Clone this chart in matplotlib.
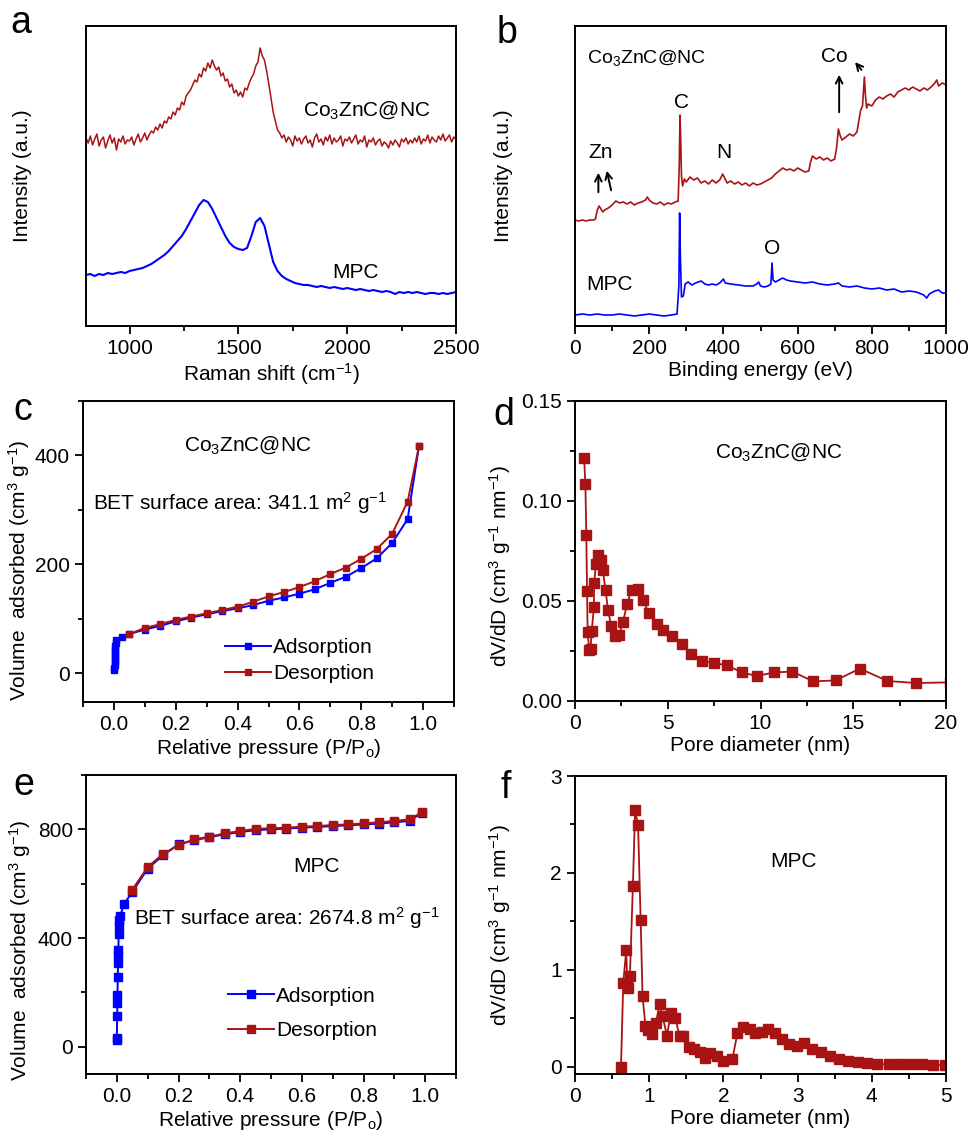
import numpy as np
import matplotlib
matplotlib.use('Agg')
import matplotlib.pyplot as plt
from matplotlib.ticker import MultipleLocator, FormatStrFormatter

plt.rcParams['font.family'] = ['Liberation Sans', 'DejaVu Sans']
plt.rcParams['mathtext.fontset'] = 'custom'
plt.rcParams['mathtext.rm'] = 'Liberation Sans'
plt.rcParams['mathtext.it'] = 'Liberation Sans:italic'
plt.rcParams['mathtext.default'] = 'regular'

RED = '#A81414'
BLUE = '#0000FF'

# (a) Raman spectra
raman_shift = np.arange(800, 2501, 10)
raman_conc = [188, 183, 190, 181, 187, 192, 180, 186, 189, 178, 185, 191, 183, 188, 176, 187, 184, 190, 182, 186, 185,
              189, 181, 187, 192, 184, 188, 193, 186, 191, 195,
              193, 199, 196, 202, 198, 205, 203, 209, 207, 214,
              211, 218, 216, 224, 221, 230, 233, 236, 241, 246,
              244, 252, 249, 258, 255, 263, 258, 266, 260, 256,
              259, 250, 253, 245, 247, 239, 242, 233, 236, 230,
              234, 229, 238, 236, 243, 248, 252, 260, 264, 278,
              270, 266, 255, 242, 228, 214, 205, 196, 193, 188,
              191, 184, 189, 186, 180, 190, 185, 188, 182, 187,
              190, 183, 186, 179, 188, 192, 184, 187, 181, 189,
              185, 191, 182, 188, 184, 186, 190, 180, 187, 185,
              189, 183, 187, 191, 182, 186, 184, 190, 179, 186,
              184, 188, 181, 185, 187, 180, 184, 182, 178, 185,
              181, 186, 183, 179, 187, 184, 188, 182, 186, 183,
              188, 184, 190, 182, 187, 185, 191, 183, 189, 186,
              184, 190, 186, 192, 185, 188, 191, 184, 189, 187]
raman_shift_mpc = np.arange(800, 2501, 20)
raman_mpc = [51, 52, 50, 52, 51, 53, 52, 53, 54, 53,
             55, 56, 57, 58, 60, 62, 65, 68, 71, 75,
             80, 85, 90, 97, 105, 113, 121, 126, 124, 117,
             108, 99, 90, 83, 79, 77, 76, 78, 90, 104,
             108, 100, 82, 64, 55, 50, 47, 45, 43, 42,
             41, 41, 40, 39, 40, 39, 38, 39, 38, 37,
             38, 37, 36, 37, 36, 35, 36, 35, 34, 35,
             34, 32, 34, 33, 34, 33, 34, 33, 32, 33,
             33, 32, 33, 32, 33, 34]

# (b) XPS survey
xps_e_conc = [0, 10, 20, 30, 40, 50, 55, 60, 65, 70, 75, 80, 90, 100, 110, 120, 130, 140, 150, 160, 170, 180,
              190, 195, 200, 210, 220, 230, 240, 250, 260, 270, 278, 281, 283, 285, 287, 290, 295, 300, 310,
              320, 330, 340, 350, 360, 370, 380, 390, 398, 402, 410, 420, 430, 440, 450, 460, 470, 480, 490,
              500, 510, 520, 530, 540, 550, 560, 570, 580, 590, 600, 610, 620, 630, 635, 640, 650, 660, 670,
              680, 690, 700, 705, 710, 715, 720, 730, 740, 750, 760, 765, 770, 775, 780, 783, 786, 790, 800,
              810, 820, 830, 840, 850, 860, 870, 880, 890, 900, 910, 920, 930, 940, 950, 960, 970, 975, 980,
              990, 1000]
xps_i_conc = [106, 105, 106, 105, 106, 106, 107, 116, 120, 117, 114, 116, 118, 121, 125, 123, 124, 122, 124, 121,
              123, 124, 126, 129, 126, 123, 122, 124, 121, 123, 122, 124, 125, 160, 211, 185, 150, 140, 147, 144,
              149, 146, 148, 143, 145, 142, 146, 143, 146, 152, 149, 143, 145, 142, 144, 141, 143, 140, 143, 141,
              142, 144, 146, 148, 152, 155, 158, 156, 157, 155, 158, 156, 154, 155, 164, 170, 167, 169, 166,
              168, 165, 167, 178, 197, 190, 186, 189, 192, 190, 194, 205, 216, 220, 249, 230, 218, 222, 220,
              226, 229, 227, 230, 232, 229, 234, 236, 238, 236, 239, 237, 235, 238, 236, 239, 243, 246, 240,
              243, 241]
xps_e_mpc = [0, 20, 40, 60, 80, 100, 120, 140, 160, 180, 200, 220, 240, 260, 275, 280, 282, 284, 287, 292, 297,
             305, 315, 325, 340, 350, 360, 370, 380, 390, 400, 405, 420, 440, 460, 480, 490, 495, 500, 510,
             520, 528, 531, 534, 540, 550, 560, 570, 580, 600, 620, 640, 660, 680, 700, 710, 720, 740, 760,
             780, 800, 820, 840, 860, 880, 900, 920, 940, 948, 955, 970, 980, 990, 1000]
xps_i_mpc = [11, 12, 11, 12, 11, 11, 12, 11, 10, 11, 12, 11, 10, 11, 12, 40, 113, 70, 29, 30, 42,
             44, 41, 43, 45, 42, 41, 42, 41, 43, 47, 43, 42, 41, 40, 40, 42, 44, 40, 39,
             40, 42, 63, 46, 44, 46, 48, 46, 45, 44, 43, 44, 42, 41, 42, 43, 40, 39, 40,
             38, 37, 38, 36, 37, 34, 35, 34, 31, 28, 32, 35, 36, 33, 33]

# (c) N2 isotherm, Co3ZnC@NC
p_ads_c = [0.001, 0.001, 0.002, 0.002, 0.002, 0.003, 0.003, 0.004, 0.004, 0.005, 0.006, 0.008,
           0.025, 0.05, 0.1, 0.15, 0.2, 0.25, 0.3, 0.35, 0.4, 0.45, 0.5, 0.55, 0.6, 0.65, 0.7,
           0.75, 0.8, 0.85, 0.9, 0.95, 0.987]
v_ads_c = [5, 10, 15, 20, 25, 30, 35, 40, 45, 50, 55, 60,
           66, 72, 80, 87, 95, 102, 108, 114, 119, 125, 133, 139, 146, 154, 166,
           177, 193, 211, 239, 283, 418]
p_des_c = [0.05, 0.1, 0.15, 0.2, 0.25, 0.3, 0.35, 0.4, 0.45, 0.5, 0.55, 0.6, 0.65, 0.7,
           0.75, 0.8, 0.85, 0.9, 0.95, 0.987]
v_des_c = [72, 83, 90, 98, 104, 110, 116, 122, 131, 141, 149, 158, 169, 182,
           194, 210, 228, 256, 315, 418]

# (d) pore size distribution, Co3ZnC@NC
d_pore_c = [0.49, 0.56, 0.61, 0.65, 0.68, 0.77, 0.84, 0.9, 1.02, 1.03, 1.13, 1.26, 1.38, 1.5, 1.65,
            1.78, 1.96, 2.16, 2.37, 2.59, 2.8, 3.05, 3.38, 3.65, 3.99, 4.4, 4.76, 5.25, 5.75, 6.25,
            6.85, 7.51, 8.19, 9.0, 9.79, 10.75, 11.72, 12.85, 14.05, 15.36, 16.84, 18.37, 20.2]
dv_c = [0.1217, 0.1083, 0.0828, 0.055, 0.0345, 0.0253, 0.0262, 0.035, 0.047, 0.059, 0.0687, 0.0728,
        0.0707, 0.0653, 0.0553, 0.0453, 0.0373, 0.0323, 0.0328, 0.0395, 0.0483, 0.0557, 0.0562, 0.0503,
        0.044, 0.0387, 0.0357, 0.0323, 0.0287, 0.0233, 0.0198, 0.019, 0.0178, 0.0143, 0.0125, 0.0143,
        0.0147, 0.0098, 0.0103, 0.0162, 0.01, 0.009, 0.0093]

# (e) N2 isotherm, MPC
p_ads_m = [0.0, 0.0, 0.001, 0.002, 0.002, 0.003, 0.004, 0.004, 0.005, 0.006, 0.007, 0.008, 0.01,
           0.024, 0.05, 0.1, 0.15, 0.2, 0.25, 0.3, 0.35, 0.4, 0.45, 0.5, 0.55, 0.6, 0.65, 0.7,
           0.75, 0.8, 0.85, 0.9, 0.95, 0.99]
v_ads_m = [25, 31, 114, 160, 191, 256, 308, 335, 357, 416, 443, 468, 480,
           526, 570, 655, 705, 745, 760, 771, 782, 790, 797, 800, 803, 806, 809, 812,
           815, 818, 821, 826, 831, 862]
p_des_m = [0.05, 0.1, 0.15, 0.2, 0.25, 0.3, 0.35, 0.4, 0.45, 0.5, 0.55, 0.6, 0.65, 0.7,
           0.75, 0.8, 0.85, 0.9, 0.95, 0.99]
v_des_m = [578, 661, 710, 741, 763, 773, 785, 794, 802, 804, 806, 810, 812, 816,
           818, 822, 826, 831, 837, 864]

# (f) pore size distribution, MPC
d_pore_m = [0.62, 0.65, 0.69, 0.705, 0.72, 0.74, 0.78, 0.81, 0.85, 0.885, 0.91, 0.95, 0.99, 1.04,
            1.09, 1.14, 1.18, 1.24, 1.29, 1.35, 1.41, 1.46, 1.54, 1.61, 1.68, 1.75, 1.82, 1.91,
            2.0, 2.12, 2.19, 2.27, 2.36, 2.43, 2.52, 2.6, 2.69, 2.79, 2.89, 2.99, 3.09, 3.2, 3.32,
            3.44, 3.56, 3.68, 3.81, 3.94, 4.07, 4.23, 4.38, 4.53, 4.68, 4.83, 4.99]
dv_m = [0.0, 0.86, 1.2, 0.86, 0.81, 0.94, 1.86, 2.65, 2.49, 1.51, 0.73, 0.42, 0.38, 0.34,
        0.45, 0.65, 0.52, 0.32, 0.55, 0.5, 0.32, 0.32, 0.2, 0.18, 0.155, 0.086, 0.14, 0.11,
        0.062, 0.076, 0.35, 0.41, 0.385, 0.344, 0.36, 0.385, 0.35, 0.29, 0.234, 0.213, 0.248,
        0.179, 0.155, 0.11, 0.076, 0.062, 0.045, 0.034, 0.028, 0.024, 0.024, 0.028, 0.028,
        0.017, 0.017]

FS = 15
W, H = 971, 1136
fig = plt.figure(figsize=(W / 100, H / 100), dpi=100)


def add_ax(left, top, right, bottom):
    return fig.add_axes([left / W, 1 - bottom / H, (right - left) / W, (bottom - top) / H])


def style(ax, xmaj, xmin, ymaj=None, ymin=None):
    for s in ax.spines.values():
        s.set_linewidth(1.4)
    ax.tick_params(which='both', direction='out', top=False, right=False, labelsize=FS, width=1.3)
    ax.tick_params(which='major', length=6)
    ax.tick_params(which='minor', length=3.5)
    ax.xaxis.set_major_locator(MultipleLocator(xmaj))
    ax.xaxis.set_minor_locator(MultipleLocator(xmin))
    if ymaj is None:
        ax.set_yticks([])
        ax.tick_params(axis='y', which='both', left=False)
    else:
        ax.yaxis.set_major_locator(MultipleLocator(ymaj))
        ax.yaxis.set_minor_locator(MultipleLocator(ymin))


# a
ax = add_ax(86, 26, 456, 326)
ax.plot(raman_shift, raman_conc, color=RED, lw=1.1)
ax.plot(raman_shift_mpc, raman_mpc, color=BLUE, lw=1.5)
ax.set_xlim(800, 2500)
ax.set_ylim(0, 300)
style(ax, 500, 250)
ax.set_xlabel('Raman shift (cm$^{-1}$)', fontsize=FS, labelpad=2)
ax.set_ylabel('Intensity (a.u.)', fontsize=FS)
ax.yaxis.set_label_coords(-0.146, 0.5)
ax.text(1797, 216, 'Co$_3$ZnC@NC', fontsize=FS, va='center')
ax.text(1930, 53, 'MPC', fontsize=FS, va='center')

# b
ax = add_ax(575, 26, 946, 326)
ax.plot(xps_e_conc, xps_i_conc, color=RED, lw=1.2)
ax.plot(xps_e_mpc, xps_i_mpc, color=BLUE, lw=1.2)
ax.set_xlim(0, 1000)
ax.set_ylim(0, 300)
style(ax, 200, 100)
ax.set_xlabel('Binding energy (eV)', fontsize=FS, labelpad=2)
ax.set_ylabel('Intensity (a.u.)', fontsize=FS)
ax.yaxis.set_label_coords(-0.167, 0.5)
ax.text(31, 268, 'Co$_3$ZnC@NC', fontsize=FS - 1, va='center')
ax.text(288, 224, 'C', fontsize=FS, va='center', ha='center')
ax.text(70, 173, 'Zn', fontsize=FS, va='center', ha='center')
ax.text(400, 173, 'N', fontsize=FS, va='center', ha='center')
ax.text(700, 269, 'Co', fontsize=FS, va='center', ha='center')
ax.text(530, 78, 'O', fontsize=FS, va='center', ha='center')
ax.text(31, 41, 'MPC', fontsize=FS, va='center')
arrow = dict(arrowstyle='->', lw=1.4, color='black', mutation_scale=12)
ax.annotate('', xy=(63, 156), xytext=(63, 131), arrowprops=arrow)
ax.annotate('', xy=(84, 158), xytext=(99, 133), arrowprops=arrow)
ax.annotate('', xy=(712, 254), xytext=(712, 211), arrowprops=arrow)
ax.annotate('', xy=(750, 266), xytext=(777, 254), arrowprops=arrow)

# c
ax = add_ax(83, 401, 454, 702)
ax.plot(p_ads_c, v_ads_c, color=BLUE, marker='s', ms=4.5, lw=1.4, label='Adsorption')
ax.plot(p_des_c, v_des_c, color=RED, marker='s', ms=4.5, lw=1.4, label='Desorption')
ax.set_xlim(-0.1, 1.1)
ax.set_ylim(-53, 500)
style(ax, 0.2, 0.1, 200, 100)
ax.xaxis.set_major_formatter(FormatStrFormatter('%.1f'))
ax.set_xlabel('Relative pressure (P/P$_o$)', fontsize=FS, labelpad=2)
ax.set_ylabel('Volume  adsorbed (cm$^3$ g$^{-1}$)', fontsize=FS)
ax.yaxis.set_label_coords(-0.137, 0.439)
ax.text(0.433, 419, 'Co$_3$ZnC@NC', fontsize=FS, va='center', ha='center')
ax.text(-0.067, 312, 'BET surface area: 341.1 m$^2$ g$^{-1}$', fontsize=FS, va='center')
ax.legend(loc='lower left', bbox_to_anchor=(0.332, 0.0), frameon=False, fontsize=FS,
          handlelength=2.2, handletextpad=0.1, labelspacing=0.35, numpoints=1)

# d
ax = add_ax(575, 401, 946, 701)
ax.plot(d_pore_c, dv_c, color=RED, marker='s', ms=7.5, lw=1.3)
ax.set_xlim(0, 20)
ax.set_ylim(0, 0.15)
style(ax, 5, 2.5, 0.05, 0.025)
ax.yaxis.set_major_formatter(FormatStrFormatter('%.2f'))
ax.set_xlabel('Pore diameter (nm)', fontsize=FS, labelpad=2)
ax.set_ylabel('dV/dD (cm$^3$ g$^{-1}$ nm$^{-1}$)', fontsize=FS)
ax.yaxis.set_label_coords(-0.167, 0.45)
ax.text(10.96, 0.1245, 'Co$_3$ZnC@NC', fontsize=FS, va='center', ha='center')

# e
ax = add_ax(86, 775, 456, 1074)
ax.plot(p_ads_m, v_ads_m, color=BLUE, marker='s', ms=6, lw=1.4, label='Adsorption')
ax.plot(p_des_m, v_des_m, color=RED, marker='s', ms=6, lw=1.4, label='Desorption')
ax.set_xlim(-0.1, 1.1)
ax.set_ylim(-100, 1000)
style(ax, 0.2, 0.1, 400, 200)
ax.xaxis.set_major_formatter(FormatStrFormatter('%.1f'))
ax.set_xlabel('Relative pressure (P/P$_o$)', fontsize=FS, labelpad=2)
ax.set_ylabel('Volume  adsorbed (cm$^3$ g$^{-1}$)', fontsize=FS)
ax.yaxis.set_label_coords(-0.143, 0.415)
ax.text(0.646, 665, 'MPC', fontsize=FS, va='center', ha='center')
ax.text(0.056, 474, 'BET surface area: 2674.8 m$^2$ g$^{-1}$', fontsize=FS, va='center')
ax.legend(loc='lower left', bbox_to_anchor=(0.334, 0.05), frameon=False, fontsize=FS,
          handlelength=2.2, handletextpad=0.1, labelspacing=0.75, numpoints=1)

# f
ax = add_ax(575, 776, 946, 1074)
ax.plot(d_pore_m, dv_m, color=RED, marker='s', ms=7.5, lw=1.3)
ax.set_xlim(0, 5)
ax.set_ylim(-0.075, 3)
style(ax, 1, 0.5, 1, 0.5)
ax.set_xlabel('Pore diameter (nm)', fontsize=FS, labelpad=2)
ax.set_ylabel('dV/dD (cm$^3$ g$^{-1}$ nm$^{-1}$)', fontsize=FS)
ax.yaxis.set_label_coords(-0.167, 0.5)
ax.text(2.94, 2.12, 'MPC', fontsize=FS, va='center', ha='center')

# panel letters
for letter, x, y in [('a', 10, 33), ('b', 497, 43), ('c', 13, 420),
                     ('d', 493, 425), ('e', 13, 795), ('f', 500, 798)]:
    fig.text(x / W, 1 - y / H, letter, fontsize=27, va='baseline', ha='left')

fig.savefig('out.png', dpi=100)
